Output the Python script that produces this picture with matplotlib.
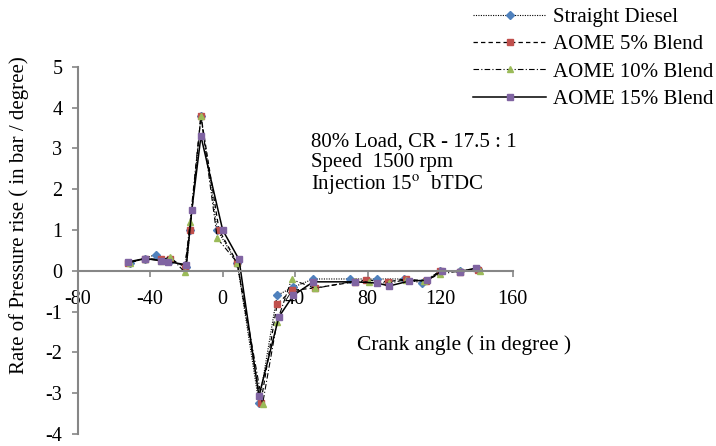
import matplotlib.pyplot as plt

plt.rcParams['font.family'] = ['Liberation Serif', 'DejaVu Serif']
plt.rcParams['mathtext.fontset'] = 'stix'
plt.rcParams['axes.unicode_minus'] = False

# data
x_diesel = [-51, -43, -37, -29, -20, -18, -12, -3, 8, 20, 30, 39, 50, 70, 85, 100, 110, 120, 131, 141]
y_diesel = [0.2, 0.3, 0.4, 0.25, 0.1, 1.0, 3.8, 1.0, 0.2, -3.25, -0.6, -0.4, -0.2, -0.2, -0.2, -0.2, -0.3, 0.0, 0.0, 0.05]

x_b5 = [-52, -43, -34, -29, -21, -18, -12, -2, 8, 21, 30, 38, 51, 73, 79, 91, 101, 112, 120, 131, 141]
y_b5 = [0.2, 0.3, 0.28, 0.3, 0.1, 1.0, 3.8, 1.0, 0.2, -3.25, -0.82, -0.48, -0.42, -0.27, -0.22, -0.27, -0.2, -0.25, 0.0, -0.02, 0.02]

x_b10 = [-51, -43, -34, -29, -21, -18, -12, -3, 8, 22, 30, 38, 51, 73, 81, 92, 101, 111, 120, 131, 142]
y_b10 = [0.2, 0.3, 0.25, 0.35, -0.03, 1.2, 3.8, 0.8, 0.2, -3.27, -1.25, -0.21, -0.43, -0.25, -0.28, -0.3, -0.22, -0.25, -0.08, 0.0, 0.0]

x_b15 = [-52, -43, -34, -30, -20, -17, -12, 0, 9, 20, 31, 39, 50, 73, 85, 92, 103, 113, 121, 131, 140]
y_b15 = [0.22, 0.3, 0.25, 0.22, 0.15, 1.5, 3.3, 1.0, 0.28, -3.07, -1.13, -0.6, -0.27, -0.27, -0.3, -0.37, -0.25, -0.23, 0.0, -0.02, 0.07]

fig = plt.figure(figsize=(7.16, 4.46), dpi=100)
ax = fig.add_axes([0.1085, 0.027, 0.6075, 0.823])

ax.plot(x_diesel, y_diesel, color='black', lw=0.8, ls=(0, (1, 1.2)),
        marker='D', ms=4, mfc='#4F81BD', mec='#4F81BD', label='Straight Diesel')
ax.plot(x_b5, y_b5, color='black', lw=0.9, ls=(0, (3.5, 2.5)),
        marker='s', ms=5, mfc='#C0504D', mec='#C0504D', label='AOME 5% Blend')
ax.plot(x_b10, y_b10, color='black', lw=0.8, ls=(0, (5, 2, 1, 2)),
        marker='^', ms=5, mfc='#9BBB59', mec='#9BBB59', label='AOME 10% Blend')
ax.plot(x_b15, y_b15, color='black', lw=1.1, ls='-',
        marker='s', ms=4.5, mfc='#8064A2', mec='#8064A2', label='AOME 15% Blend')

ax.set_xlim(-80, 160)
ax.set_ylim(-4, 5)
ax.set_xticks([-80, -40, 0, 40, 80, 120, 160])
ax.set_yticks(range(-4, 6))

for s in ['top', 'right']:
    ax.spines[s].set_visible(False)
ax.spines['bottom'].set_position(('data', 0))
ax.spines['left'].set_color('#868686')
ax.spines['bottom'].set_color('#868686')
ax.spines['left'].set_linewidth(1.5)
ax.spines['bottom'].set_linewidth(1.5)
ax.tick_params(axis='both', colors='#868686', labelcolor='black', labelsize=14.5, length=4, width=1.2)
ax.tick_params(axis='x', pad=10)
ax.tick_params(axis='y', pad=7)

fig.text(0.026, 0.518, 'Rate of Pressure rise ( in bar / degree)', rotation=90,
         ha='center', va='center', fontsize=15)
fig.text(0.648, 0.226, 'Crank angle ( in degree )', ha='center', va='center', fontsize=15.5)
fig.text(0.434, 0.63, '80% Load, CR - 17.5 : 1\nSpeed  1500 rpm\nInjection 15$^{\\mathrm{o}}$  bTDC',
         ha='left', va='center', fontsize=15, linespacing=1.1)

fig.legend(loc='upper right', bbox_to_anchor=(1.022, 1.025), frameon=False, fontsize=15,
           handlelength=3.5, labelspacing=0.37, handletextpad=0.3)

fig.savefig('out.png', dpi=100)
